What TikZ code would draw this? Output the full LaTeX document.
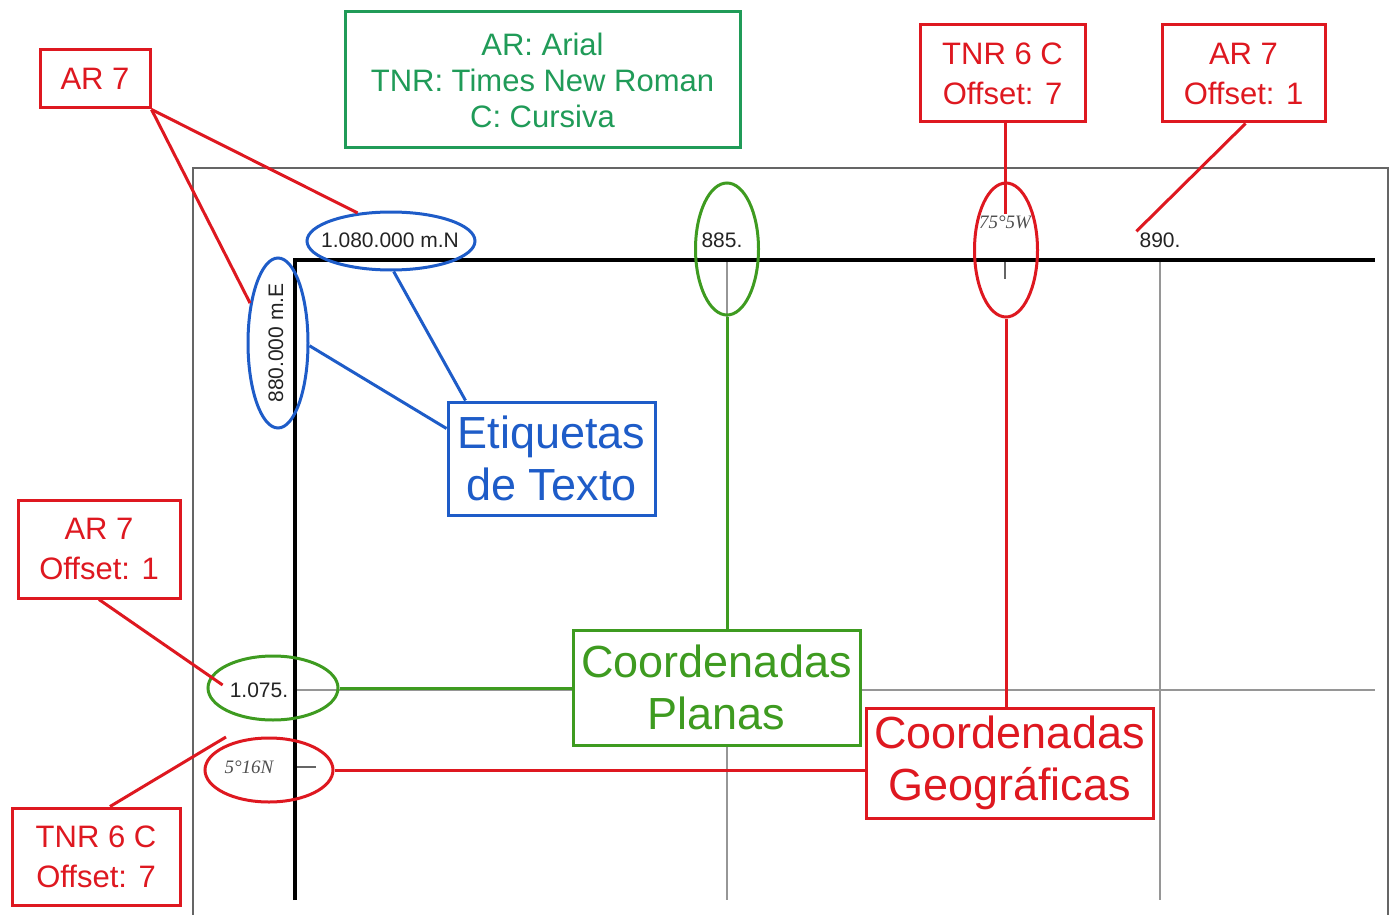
\documentclass[tikz,border=0pt]{standalone}
\usepackage{fontspec}
\setmainfont{Liberation Sans}
\newfontfamily\tnrfont{Liberation Serif}
\usetikzlibrary{shapes.geometric}

\definecolor{cred}{RGB}{222,24,32}
\definecolor{cgreen}{RGB}{62,155,32}
\definecolor{cleg}{RGB}{32,155,88}
\definecolor{cblue}{RGB}{30,92,200}
\definecolor{cgrid}{RGB}{150,150,150}
\definecolor{ctext}{RGB}{35,35,35}

\tikzset{
  box/.style={draw, line width=3pt, fill=white, align=center, inner sep=0pt},
  smallbox/.style={box, draw=cred, text=cred, font=\fontsize{31}{40}\selectfont},
  bigbox/.style={box, font=\fontsize{45}{52}\selectfont},
  oval/.style={ellipse, draw, line width=3pt, inner sep=0pt},
  lbl/.style={font=\fontsize{21}{24}\selectfont, text=ctext, inner sep=1pt},
  geolbl/.style={font=\tnrfont\itshape\fontsize{19}{22}\selectfont, text=ctext!80, inner sep=1pt},
  link/.style={line width=3pt},
  grid/.style={cgrid, line width=1.6pt},
  axis/.style={black, line width=4.5pt},
}

\begin{document}
\begin{tikzpicture}[x=1pt, y=-1pt]
\useasboundingbox (0,0) rectangle (1390,915);

% map frame
\draw[ctext!70, line width=1.5pt] (193,925) -- (193,168) -- (1388,168) -- (1388,925);

% grid lines and ticks
\draw[grid] (727,262) -- (727,900);
\draw[grid] (1160,262) -- (1160,900);
\draw[grid] (295,690) -- (1375,690);
\draw[ctext!70, line width=1.5pt] (1005,262) -- (1005,279);
\draw[ctext!70, line width=1.5pt] (297,767) -- (316,767);

% axes
\draw[axis] (295,900) -- (295,260) -- (1375,260);

% coordinate labels
\node[lbl] (l1080) at (390,240) {1.080.000 m.N};
\node[lbl, rotate=90] (l880) at (276,343) {880.000 m.E};
\node[lbl] (l885) at (722,240) {885.};
\node[lbl] (l890) at (1160,240) {890.};
\node[lbl] (l1075) at (259,690) {1.075.};
\node[geolbl] (l75) at (1005,222) {75°5W};
\node[geolbl] (l516) at (249,767) {5°16N};

% highlight ovals
\node[oval, cblue, minimum width=168pt, minimum height=58pt] (o1080) at (391,241) {};
\node[oval, cblue, minimum width=60pt, minimum height=170pt] (o880) at (278,343) {};
\node[oval, cgreen, minimum width=63pt, minimum height=132pt] (o885) at (727,249) {};
\node[oval, cred, minimum width=63pt, minimum height=134pt] (o75) at (1006,250) {};
\node[oval, cgreen, minimum width=130pt, minimum height=64pt] (o1075) at (273,688) {};
\node[oval, cred, minimum width=128pt, minimum height=64pt] (o516) at (269,770) {};

% boxes
\node[box, draw=cleg, text=cleg, font=\fontsize{31}{36}\selectfont,
      minimum width=395pt, minimum height=136pt] (leg) at (542.5,80)
      {AR: Arial\\TNR: Times New Roman\\C: Cursiva};
\node[smallbox, minimum width=110pt, minimum height=58pt] (ar7a) at (95,79) {AR 7};
\node[smallbox, minimum width=165pt, minimum height=97pt] (tnrtop) at (1002.5,73.5) {TNR 6 C\\Offset: 7};
\node[smallbox, minimum width=163pt, minimum height=97pt] (ar7top) at (1243.5,73.5) {AR 7\\Offset: 1};
\node[smallbox, minimum width=162pt, minimum height=98pt] (ar7left) at (99,549) {AR 7\\Offset: 1};
\node[smallbox, minimum width=168pt, minimum height=97pt] (tnrleft) at (96,856.5) {TNR 6 C\\Offset: 7};

\coordinate (p516) at (226,737);

% connectors
\draw[link, cred] (ar7a.south east) -- (o1080.140);
\draw[link, cred] (ar7a.south east) -- (o880.125);
\draw[link, cred] (l75.north |- tnrtop.south) -- (l75.north);
\draw[link, cred] ([xshift=2pt]ar7top.south) -- ([xshift=-2pt]l890.north west);
\draw[link, cred] (ar7left.south) -- ([xshift=-6pt,yshift=5pt]l1075.west);
\draw[link, cred] ([xshift=14pt]tnrleft.north) -- (p516);

\node[bigbox, draw=cblue, text=cblue, minimum width=207pt, minimum height=113pt] (etq) at (551.5,458.5) {Etiquetas\\de Texto};
\node[bigbox, draw=cgreen, text=cgreen, minimum width=287pt, minimum height=115pt] (planas) at (716.5,687.5) {Coordenadas\\Planas};
\node[bigbox, draw=cred, text=cred, minimum width=287pt, minimum height=110pt] (geo) at (1009.5,763) {Coordenadas\\Geográficas};

\draw[link, cblue] (o1080.-85) -- ([xshift=19pt]etq.north west);
\draw[link, cblue] (o880.-5) -- ([yshift=30pt]etq.west);
\draw[link, cgreen] (o885.south) -- (o885.south |- planas.north);
\draw[link, cred] (o75.south) -- (o75.south |- geo.north);
\draw[link, cgreen] (o1075.east) -- (o1075.east -| planas.west);
\draw[link, cred] (o516.east) -- (o516.east -| geo.west);
\end{tikzpicture}
\end{document}
